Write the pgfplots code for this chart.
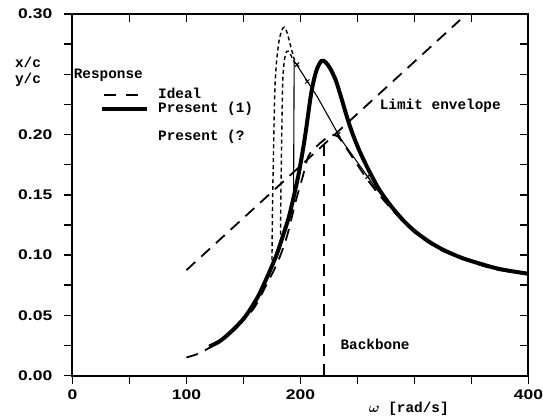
\documentclass[border=0pt]{standalone}
\usepackage{amsmath}
\usepackage{fontspec}
\usepackage{pgfplots}
\pgfplotsset{compat=1.18}
\newfontfamily\tickfont{Liberation Sans}[FakeStretch=1.25]
\newfontfamily\labfont{Liberation Mono}

\begin{document}
\begin{tikzpicture}
\pgfplotsset{
  base/.style={
    scale only axis, width=456.5pt, height=362pt,
    xmin=0, xmax=400, ymin=0, ymax=0.3,
    xtick={0,50,100,150,200,250,300,350,400},
    ytick={0,0.025,0.05,0.075,0.1,0.125,0.15,0.175,0.2,0.225,0.25,0.275,0.3},
    major tick length=8pt,
    axis line style={line width=2pt},
    tick style={line width=1.5pt, black},
  },
  longdash/.style={black, line width=1.8pt, dash pattern=on 12pt off 8pt},
  shortdash/.style={black, line width=1.4pt, dash pattern=on 4pt off 3pt},
}
% ticks on top and right point inwards
\begin{axis}[base, xtick pos=right, ytick pos=right, tick align=inside,
  xticklabels={}, yticklabels={}]
\end{axis}

\begin{axis}[base, xtick pos=left, ytick pos=left, tick align=outside,
  xticklabels={0,,100,,200,,,,400},
  yticklabels={0.00,,0.05,,0.10,,0.15,,0.20,,,,0.30},
  /pgf/number format/assume math mode=true,
  tick label style={font=\tickfont\bfseries\fontsize{14}{16}\selectfont, inner sep=0pt},
  yticklabel shift=12pt, xticklabel shift=6pt,
  clip=false]

% limit envelope
\addplot[longdash] coordinates {(100,0.0875) (340,0.295)};
% backbone
\addplot[longdash] coordinates {(220.5,0) (220.5,0.193)};
% ideal
\addplot[longdash, smooth] coordinates {
  (100,0.015) (110,0.018) (120,0.023) (130,0.029) (140,0.037) (150,0.046)
  (160,0.057) (170,0.075) (180,0.094) (188,0.115) (196,0.145) (202,0.165)
  (207,0.182) (214,0.190) (220,0.195) (226,0.199) (232,0.199) (238,0.192)
  (245,0.182) (252,0.172) (260,0.161) (270,0.149) (280,0.138) (290,0.128)
  (300,0.119) (313,0.110) (326,0.103) (342,0.097) (357,0.092) (372,0.088)
  (386,0.086) (400,0.084)
};
% present (2), two sweeps
\addplot[shortdash, smooth] coordinates {
  (175,0.090) (175.5,0.14) (176.5,0.19) (177.5,0.235) (179,0.260)
  (181.5,0.279) (184,0.287) (186,0.289) (188.5,0.284) (191.5,0.273) (195,0.261)
};
\addplot[shortdash, smooth] coordinates {
  (182.5,0.117) (183,0.16) (183.8,0.21) (184.5,0.245) (186,0.262)
  (188,0.269) (190.5,0.268) (193,0.263) (195.5,0.259)
};
% thin backbone of present (2)
\addplot[black, line width=1.1pt] coordinates {
  (194,0.150) (194.5,0.260) (196,0.259) (215,0.231) (236,0.1955) (259,0.165) (268,0.153)
};
\addplot[black, only marks, mark=x, mark size=3pt, mark options={line width=1pt}] coordinates {
  (197,0.258) (206,0.244) (233,0.200) (259,0.165)
};
% present (1)
\addplot[black, line width=4pt, smooth] coordinates {
  (120,0.024) (130,0.029) (141,0.038) (150,0.047) (156,0.055) (163,0.066)
  (170,0.080) (179,0.100) (185,0.117) (190,0.132) (195,0.152) (199,0.170)
  (204,0.198) (209.6,0.235) (214,0.253) (218.4,0.261) (222,0.260) (226,0.255)
  (231,0.245) (236,0.230) (241,0.214) (246,0.200) (252,0.186) (258,0.174)
  (264,0.163) (270,0.153) (280,0.140) (290,0.129) (300,0.120) (313,0.111)
  (326,0.104) (342,0.0975) (357,0.093) (372,0.089) (386,0.0865) (400,0.0845)
};
% legend samples
\addplot[longdash, dash pattern=on 12pt off 10pt] coordinates {(27.6,0.233) (65.3,0.233)};
\addplot[black, line width=4pt] coordinates {(25.9,0.2215) (65.3,0.2215)};

\begin{scope}[every node/.style={font=\labfont\bfseries\fontsize{14.4}{16}\selectfont, inner sep=0pt}]
\node[anchor=west] at (axis cs:1,0.249) {Response};
\node[anchor=west] at (axis cs:75,0.234) {Ideal};
\node[anchor=west] at (axis cs:75,0.2215) {Present (1)};
\node[anchor=west] at (axis cs:75,0.198) {Present (?};
\node[anchor=west] at (axis cs:269.5,0.224) {Limit envelope};
\node[anchor=west] at (axis cs:235,0.026) {Backbone};
\node[xshift=-44.5pt] at (axis cs:0,0.260) {x/c};
\node[xshift=-44.5pt] at (axis cs:0,0.245) {y/c};
\node[yshift=-33pt] at (axis cs:295,0) {$\boldsymbol{\omega}$ [rad/s]};
\end{scope}
\end{axis}
\path (-72.5pt,-38pt) rectangle (470.5pt,376pt);
\end{tikzpicture}
\end{document}
